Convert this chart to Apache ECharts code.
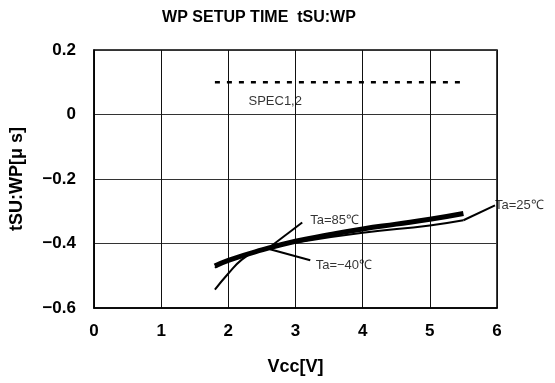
<!DOCTYPE html>
<html><head><meta charset="utf-8">
<script src="https://cdn.jsdelivr.net/npm/echarts@6/dist/echarts.min.js"></script>
<style>html,body{margin:0;padding:0;background:#fff}#c{width:555px;height:383px}</style>
</head><body><div id="c"></div>
<script>
const title = 'WP SETUP TIME  tSU:WP';
const xName = 'Vcc[V]';
const yName = 'tSU:WP[\u03bc s]';
// thick curve
const thickX = [1.8, 2.0, 2.5, 3.0, 3.5, 4.0, 4.5, 5.0, 5.5];
const thickY = [-0.470, -0.452, -0.420, -0.393, -0.373, -0.355, -0.340, -0.325, -0.307];
// Ta=25 thin curve
const thinX = [1.8, 2.0, 2.6, 3.0, 4.0, 5.0, 5.5];
const thinY = [-0.475, -0.452, -0.413, -0.397, -0.367, -0.344, -0.328];
// Ta=-40 steep curve
const steepX = [1.8, 2.0, 2.2, 2.4, 2.6, 3.0];
const steepY = [-0.543, -0.493, -0.450, -0.425, -0.412, -0.395];
// spec line
const specX = [1.8, 5.5];
const specY = [0.1, 0.1];
// leader lines
const lead85 = [[2.6, -0.414], [3.1, -0.335]];
const leadM40 = [[2.62, -0.418], [3.22, -0.452]];
const lead25 = [[5.5, -0.328], [5.97, -0.282]];
// labels
const labels = [
  {name: 'Ta=85\u2103', x: 3.22, y: -0.329},
  {name: 'Ta=\u221240\u2103', x: 3.3, y: -0.468},
  {name: 'Ta=25\u2103', x: 5.97, y: -0.283},
  {name: 'SPEC1,2', x: 2.3, y: 0.042}
];
const xTicks = [0, 6, 1];
const yTicks = [-0.6, 0.2, 0.2];

const zip = (a, b) => a.map((v, i) => [v, b[i]]);
const FF = 'Liberation Sans, Arial, sans-serif';
const chart = echarts.init(document.getElementById('c'));
const lineBase = {type: 'line', showSymbol: false, symbol: 'none', silent: true, animation: false};
chart.setOption({
  animation: false,
  title: {text: title, left: 254, top: 5, textAlign: 'center',
    textStyle: {fontFamily: FF, fontSize: 16, fontWeight: 'bold', color: '#000'}},
  grid: {left: 93, right: 58, top: 50, bottom: 75, show: true, borderColor: '#000', borderWidth: 1.5},
  xAxis: {type: 'value', min: xTicks[0], max: xTicks[1], interval: xTicks[2],
    name: xName, nameLocation: 'middle', nameGap: 50,
    nameTextStyle: {fontFamily: FF, fontSize: 18, fontWeight: 'bold', color: '#000'},
    axisLine: {show: true, onZero: false, lineStyle: {color: '#000', width: 1.5}}, axisTick: {show: false},
    axisLabel: {fontFamily: FF, fontSize: 17, fontWeight: 'bold', color: '#000', margin: 15},
    splitLine: {show: true, lineStyle: {color: '#111', width: 1}}},
  yAxis: {type: 'value', min: yTicks[0], max: yTicks[1], interval: yTicks[2],
    name: yName, nameLocation: 'middle', nameGap: 68, nameRotate: 90,
    nameTextStyle: {fontFamily: FF, fontSize: 18, fontWeight: 'bold', color: '#000'},
    axisLine: {show: true, onZero: false, lineStyle: {color: '#000', width: 1.5}}, axisTick: {show: false},
    axisLabel: {fontFamily: FF, fontSize: 17, fontWeight: 'bold', color: '#000', margin: 18,
      formatter: v => { const r = Math.round(v * 10) / 10; return (r === 0 ? '0' : String(r)).replace('-', '\u2212'); }},
    splitLine: {show: true, lineStyle: {color: '#333', width: 1}}},
  series: [
    Object.assign({}, lineBase, {data: zip(specX, specY), lineStyle: {color: '#000', width: 2.5, type: [5, 7]}}),
    Object.assign({}, lineBase, {data: zip(thinX, thinY), smooth: true, lineStyle: {color: '#000', width: 2}}),
    Object.assign({}, lineBase, {data: zip(steepX, steepY), smooth: true, lineStyle: {color: '#000', width: 2}}),
    Object.assign({}, lineBase, {data: zip(thickX, thickY), smooth: true, lineStyle: {color: '#000', width: 5}}),
    Object.assign({}, lineBase, {data: lead85, lineStyle: {color: '#000', width: 2}}),
    Object.assign({}, lineBase, {data: leadM40, lineStyle: {color: '#000', width: 2}}),
    Object.assign({}, lineBase, {data: lead25, lineStyle: {color: '#000', width: 2}}),
    {type: 'scatter', symbolSize: 0, silent: true,
      data: labels.map(l => ({name: l.name, value: [l.x, l.y]})),
      label: {show: true, position: 'right', distance: 0, formatter: p => p.name,
        fontFamily: FF, fontSize: 13, color: '#000'}}
  ]
});
</script></body></html>
